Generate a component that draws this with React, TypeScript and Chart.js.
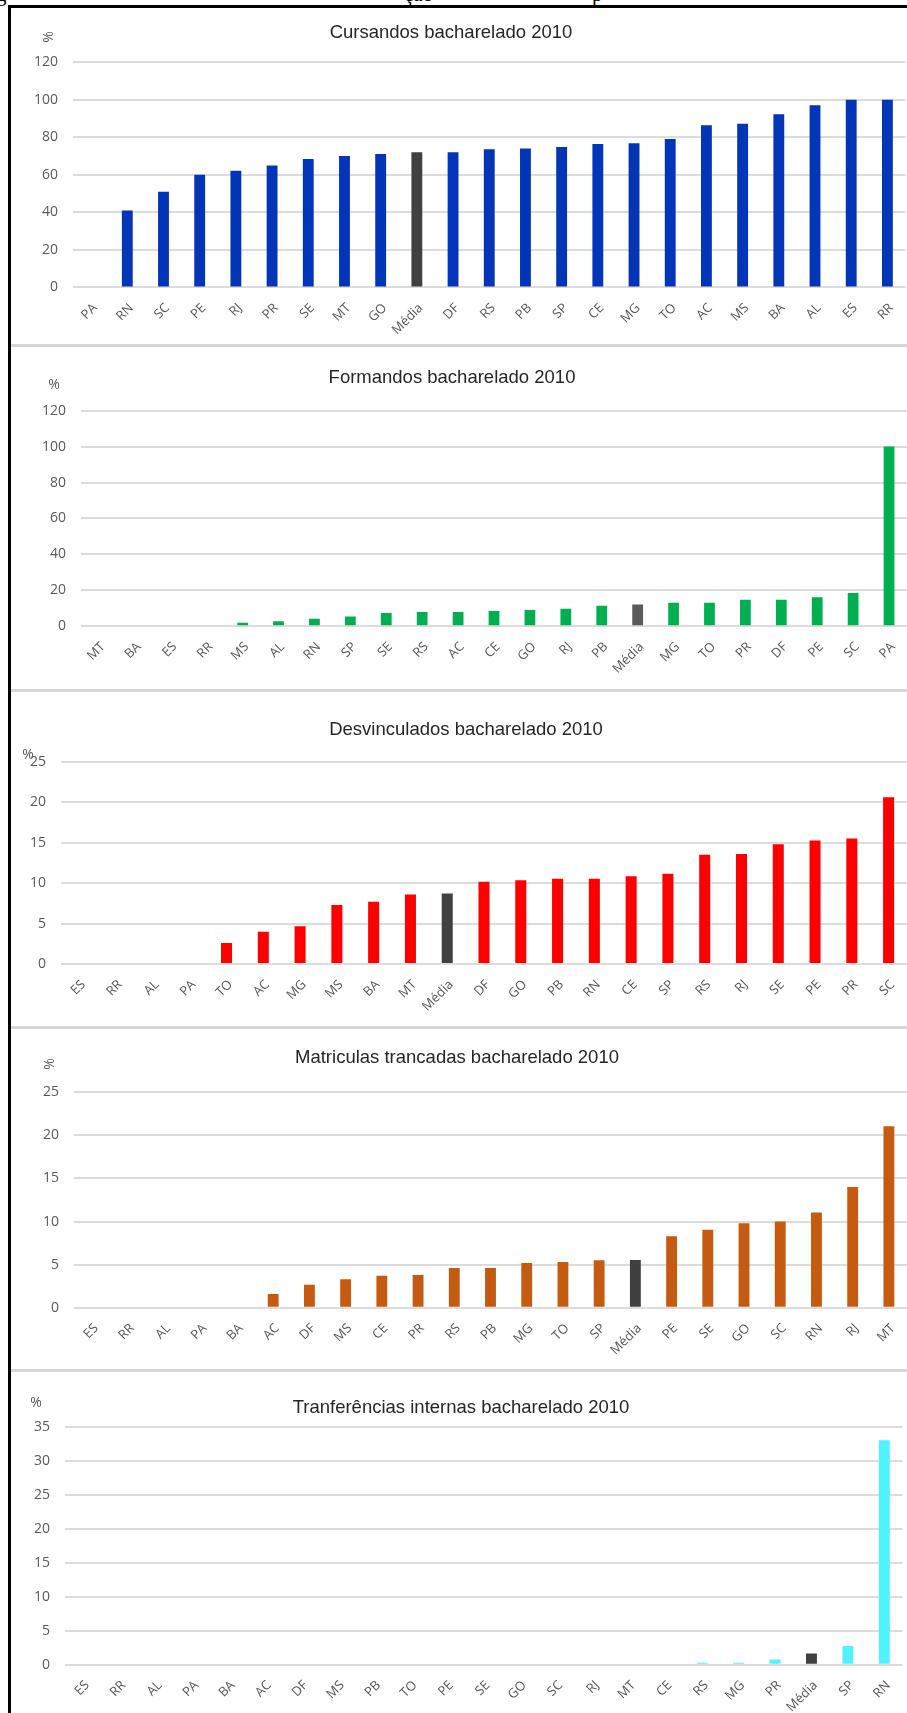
import React, { useEffect, useRef } from "react";
import { Chart, registerables } from "chart.js";

Chart.register(...registerables);

// ---------- DATA ----------
const cursandosLabels = ["PA", "RN", "SC", "PE", "RJ", "PR", "SE", "MT", "GO", "Média", "DF", "RS", "PB", "SP", "CE", "MG", "TO", "AC", "MS", "BA", "AL", "ES", "RR"];
const cursandosValues = [0, 41, 51, 60, 62.2, 65, 68.4, 70, 71.1, 72, 72, 73.7, 74, 74.8, 76.4, 76.8, 79.1, 86.4, 87.3, 92.3, 97.1, 100, 100];

const formandosLabels = ["MT", "BA", "ES", "RR", "MS", "AL", "RN", "SP", "SE", "RS", "AC", "CE", "GO", "RJ", "PB", "Média", "MG", "TO", "PR", "DF", "PE", "SC", "PA"];
const formandosValues = [0, 0, 0, 0, 1.9, 2.8, 4.1, 5.4, 7.3, 7.9, 7.9, 8.4, 9.0, 9.7, 11.4, 12.1, 13.0, 13.0, 14.7, 14.7, 16.1, 18.5, 100];

const desvinculadosLabels = ["ES", "RR", "AL", "PA", "TO", "AC", "MG", "MS", "BA", "MT", "Média", "DF", "GO", "PB", "RN", "CE", "SP", "RS", "RJ", "SE", "PE", "PR", "SC"];
const desvinculadosValues = [0, 0, 0, 0, 2.6, 4.0, 4.65, 7.3, 7.7, 8.6, 8.7, 10.15, 10.35, 10.55, 10.55, 10.85, 11.15, 13.5, 13.6, 14.8, 15.25, 15.5, 20.6];

const trancadasLabels = ["ES", "RR", "AL", "PA", "BA", "AC", "DF", "MS", "CE", "PR", "RS", "PB", "MG", "TO", "SP", "Média", "PE", "SE", "GO", "SC", "RN", "RJ", "MT"];
const trancadasValues = [0, 0, 0, 0, 0, 1.6, 2.65, 3.3, 3.7, 3.8, 4.6, 4.6, 5.2, 5.3, 5.5, 5.55, 8.3, 9.05, 9.8, 10.0, 11.05, 14.0, 21.05];

const transferenciasLabels = ["ES", "RR", "AL", "PA", "BA", "AC", "DF", "MS", "PB", "TO", "PE", "SE", "GO", "SC", "RJ", "MT", "CE", "RS", "MG", "PR", "Média", "SP", "RN"];
const transferenciasValues = [0, 0, 0, 0, 0, 0, 0, 0, 0, 0, 0, 0, 0, 0, 0, 0, 0, 0.3, 0.3, 0.75, 1.65, 2.75, 33];

const panelTitles = [
  "Cursandos bacharelado 2010",
  "Formandos bacharelado 2010",
  "Desvinculados bacharelado 2010",
  "Matriculas trancadas bacharelado 2010",
  "Tranferências internas bacharelado 2010",
];

// ---------- LAYOUT ----------
const X0 = 12;
const CW = 907 - X0;
const TICK_FONT = "'Open Sans', 'DejaVu Sans', sans-serif";
const TITLE_FONT = "'Liberation Sans', Arial, sans-serif";

type Spec = {
  labels: string[];
  values: number[];
  color: string;
  meanColor: string;
  max: number;
  step: number;
  top: number;
  bottom: number;
  areaLeft: number;
  areaRight: number;
  areaTop: number;
  areaBottom: number;
  title: string;
  titleX: number;
  titleY: number;
  pctX: number;
  pctY: number;
  pctRot: boolean;
};

const specs: Spec[] = [
  {
    labels: cursandosLabels, values: cursandosValues, color: "#0335b8", meanColor: "#404040",
    max: 120, step: 20, top: 8, bottom: 344,
    areaLeft: 73, areaRight: 905.5, areaTop: 62.3, areaBottom: 287.4,
    title: panelTitles[0], titleX: 451, titleY: 33, pctX: 49, pctY: 37, pctRot: true,
  },
  {
    labels: formandosLabels, values: formandosValues, color: "#00b050", meanColor: "#5a5a5a",
    max: 120, step: 20, top: 347, bottom: 689,
    areaLeft: 81, areaRight: 907, areaTop: 410.7, areaBottom: 626.2,
    title: panelTitles[1], titleX: 452, titleY: 378, pctX: 54, pctY: 385, pctRot: false,
  },
  {
    labels: desvinculadosLabels, values: desvinculadosValues, color: "#ff0000", meanColor: "#404040",
    max: 25, step: 5, top: 692, bottom: 1026,
    areaLeft: 61, areaRight: 907, areaTop: 761.7, areaBottom: 964,
    title: panelTitles[2], titleX: 466, titleY: 730, pctX: 28, pctY: 755, pctRot: false,
  },
  {
    labels: trancadasLabels, values: trancadasValues, color: "#c55a11", meanColor: "#404040",
    max: 25, step: 5, top: 1029, bottom: 1369,
    areaLeft: 74, areaRight: 907, areaTop: 1092.3, areaBottom: 1307.7,
    title: panelTitles[3], titleX: 457, titleY: 1058, pctX: 50, pctY: 1064, pctRot: true,
  },
  {
    labels: transferenciasLabels, values: transferenciasValues, color: "#50f2fe", meanColor: "#404040",
    max: 35, step: 5, top: 1372, bottom: 1713,
    areaLeft: 65, areaRight: 902.5, areaTop: 1426.7, areaBottom: 1664.7,
    title: panelTitles[4], titleX: 461, titleY: 1408, pctX: 36, pctY: 1403, pctRot: false,
  },
];

const panelTextPlugin = {
  id: "panelText",
  afterDraw(chart: any, _args: any, opts: any) {
    const ctx = chart.ctx as CanvasRenderingContext2D;
    ctx.save();
    ctx.fillStyle = "#262626";
    ctx.font = `18.5px ${TITLE_FONT}`;
    ctx.textAlign = "center";
    ctx.textBaseline = "middle";
    ctx.fillText(opts.title, opts.titleX, opts.titleY);
    ctx.fillStyle = "#595959";
    ctx.font = `14px ${TICK_FONT}`;
    ctx.translate(opts.pctX, opts.pctY);
    if (opts.pctRot) ctx.rotate(-Math.PI / 2);
    ctx.fillText("%", 0, 0);
    ctx.restore();
  },
};

function BarPanel({ spec }: { spec: Spec }) {
  const ref = useRef<HTMLCanvasElement>(null);
  const ch = spec.bottom - spec.top;
  useEffect(() => {
    const canvas = ref.current;
    if (!canvas) return;
    const areaL = spec.areaLeft - X0;
    const areaR = spec.areaRight - X0;
    const areaT = spec.areaTop - spec.top;
    const areaB = spec.areaBottom - spec.top;
    const xH = 50;
    const chart = new Chart(canvas, {
      type: "bar",
      data: {
        labels: spec.labels,
        datasets: [
          {
            data: spec.values,
            backgroundColor: spec.labels.map((l) => (l === "Média" ? spec.meanColor : spec.color)),
            borderWidth: 0,
            categoryPercentage: 1,
            barPercentage: 0.3,
          },
        ],
      },
      options: {
        responsive: false,
        maintainAspectRatio: false,
        animation: false,
        devicePixelRatio: 1,
        layout: {
          padding: { left: 0, right: CW - areaR, top: areaT, bottom: ch - areaB - xH },
        },
        plugins: {
          legend: { display: false },
          title: { display: false },
          tooltip: { enabled: false },
          panelText: {
            title: spec.title,
            titleX: spec.titleX - X0,
            titleY: spec.titleY - spec.top,
            pctX: spec.pctX - X0,
            pctY: spec.pctY - spec.top,
            pctRot: spec.pctRot,
          },
        } as any,
        scales: {
          x: {
            grid: { display: false, drawTicks: false },
            border: { display: false },
            ticks: {
              autoSkip: false,
              maxRotation: 45,
              minRotation: 45,
              padding: 13,
              labelOffset: 4,
              color: "#555555",
              font: { family: TICK_FONT, size: 13 },
            },
            afterFit: (s: any) => {
              s.height = xH;
              s.paddingLeft = 0;
              s.paddingRight = 0;
            },
          },
          y: {
            min: 0,
            max: spec.max,
            ticks: {
              stepSize: spec.step,
              padding: 15,
              color: "#595959",
              font: { family: TICK_FONT, size: 14 },
            },
            grid: { color: "#dcdcdc", lineWidth: 2, drawTicks: false },
            border: { display: false },
            afterFit: (s: any) => {
              s.width = areaL;
              s.paddingTop = 0;
              s.paddingBottom = 0;
            },
          },
        },
      } as any,
      plugins: [panelTextPlugin],
    });
    return () => chart.destroy();
  }, [spec, ch]);
  return (
    <canvas
      ref={ref}
      width={CW}
      height={ch}
      style={{ position: "absolute", left: X0, top: spec.top, width: CW, height: ch }}
    />
  );
}

export default function App() {
  const separators = [344, 689, 1026, 1369];
  const capStyle = { position: "absolute" as const, top: -16, font: "21px 'Liberation Serif', serif", lineHeight: "21px", color: "#000" };
  return (
    <div
      style={{
        position: "absolute",
        left: 0,
        top: 0,
        width: 907,
        height: 1713,
        background: "#ffffff",
        overflow: "hidden",
      }}
    >
      {/* cut-off caption line above the figure */}
      <div style={{ ...capStyle, left: -4 }}>g</div>
      <div style={{ ...capStyle, left: 404 }}>ção</div>
      <div style={{ ...capStyle, left: 592 }}>p</div>

      {/* frame */}
      <div style={{ position: "absolute", left: 8, top: 5, width: 899, height: 3, background: "#000" }} />
      <div style={{ position: "absolute", left: 8, top: 5, width: 3, height: 1708, background: "#000" }} />
      {separators.map((y) => (
        <div key={y} style={{ position: "absolute", left: 11, top: y, width: 896, height: 3, background: "#d6d6d6" }} />
      ))}

      {specs.map((s, i) => (
        <BarPanel key={i} spec={s} />
      ))}
    </div>
  );
}
